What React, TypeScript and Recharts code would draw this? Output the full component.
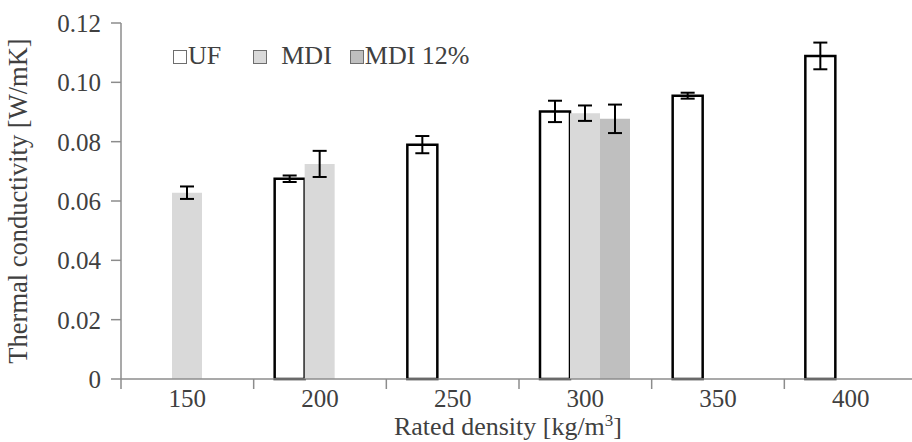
import {
  BarChart,
  Bar,
  XAxis,
  YAxis,
  ErrorBar,
} from 'recharts';

const densities = ['150', '200', '250', '300', '350', '400'];
const ufValues = [null, 0.0675, 0.0790, 0.0902, 0.0955, 0.1089];
const ufErrors = [null, 0.0011, 0.0029, 0.0036, 0.0010, 0.0045];
const mdiValues = [0.0628, 0.0725, null, 0.0896, null, null];
const mdiErrors = [0.0021, 0.0044, null, 0.0026, null, null];
const mdi12Values = [null, null, null, 0.0877, null, null];
const mdi12Errors = [null, null, null, 0.0048, null, null];
const yTicks = [0, 0.02, 0.04, 0.06, 0.08, 0.1, 0.12];

const data = densities.map((d, i) => ({
  density: d,
  uf: ufValues[i],
  ufErr: ufErrors[i],
  mdi: mdiValues[i],
  mdiErr: mdiErrors[i],
  mdi12: mdi12Values[i],
  mdi12Err: mdi12Errors[i],
}));

const FONT = '"Liberation Serif", "Times New Roman", serif';
const TEXT = '#404040';
const AXIS = '#8c8c8c';

const legendItems = [
  { label: 'UF', fill: '#ffffff', textGap: 1, after: 32 },
  { label: 'MDI', fill: '#d9d9d9', textGap: 14, after: 18 },
  { label: 'MDI 12%', fill: '#bfbfbf', textGap: 1, after: 0 },
];

// legend lives outside the chart so it doesn't eat plot space
function ChartLegend() {
  return (
    <div
      style={{
        position: 'absolute',
        top: 42,
        left: 173,
        display: 'flex',
        alignItems: 'center',
        fontFamily: FONT,
        fontSize: 26,
        color: TEXT,
        lineHeight: '28px',
      }}
    >
      {legendItems.map((it) => (
        <div key={it.label} style={{ display: 'flex', alignItems: 'center', marginRight: it.after }}>
          <span
            style={{
              display: 'inline-block',
              width: 12,
              height: 12,
              background: it.fill,
              border: '1px solid #6e6e6e',
              marginRight: it.textGap,
              marginTop: 2,
            }}
          />
          <span>{it.label}</span>
        </div>
      ))}
    </div>
  );
}

// x-axis ticks sit on the category boundaries, labels in the middle
function DensityTick(props: any) {
  const { x, y, payload } = props;
  const half = payload.offset ?? 66;
  return (
    <g>
      <line x1={x - half} y1={y - 8} x2={x - half} y2={y + 2} stroke={AXIS} strokeWidth={1.5} />
      <text x={x} y={y + 20} textAnchor="middle" fill={TEXT} fontSize={25} fontFamily={FONT}>
        {payload.value}
      </text>
    </g>
  );
}

function XTitle(props: any) {
  const { viewBox } = props;
  const cx = viewBox.x + viewBox.width / 2 - 11;
  return (
    <text x={cx} y={viewBox.y + 56} textAnchor="middle" fill={TEXT} fontSize={26} fontFamily={FONT}>
      Rated density [kg/m
      <tspan dy={-9} fontSize={17}>3</tspan>
      <tspan dy={9}>]</tspan>
    </text>
  );
}

export default function App() {
  return (
    <div style={{ position: 'absolute', left: 0, top: 0, width: 912, height: 442, background: '#fff', overflow: 'hidden' }}>
      <BarChart
        width={917}
        height={442}
        data={data}
        margin={{ top: 23, right: 0, left: 0, bottom: 0 }}
        barGap={0}
        barSize={30}
      >
        <XAxis
          dataKey="density"
          height={63}
          axisLine={{ stroke: AXIS, strokeWidth: 1.5 }}
          tickLine={false}
          tick={<DensityTick />}
          interval={0}
          label={<XTitle />}
        />
        <YAxis
          width={121}
          domain={[0, 0.12]}
          ticks={yTicks}
          tickFormatter={(v: number) => (v === 0 ? '0' : v.toFixed(2))}
          axisLine={{ stroke: AXIS, strokeWidth: 1.5 }}
          tickLine={{ stroke: AXIS, strokeWidth: 1.5 }}
          tickSize={10}
          tickMargin={10}
          tick={{ fontSize: 25, fill: TEXT, fontFamily: FONT }}
          label={{
            value: 'Thermal conductivity [W/mK]',
            angle: -90,
            position: 'insideLeft',
            offset: 18,
            style: { textAnchor: 'middle', fontSize: 26.5, fill: TEXT, fontFamily: FONT },
          }}
        />
        <Bar dataKey="uf" name="UF" fill="#ffffff" stroke="#000000" strokeWidth={2.5} isAnimationActive={false}>
          <ErrorBar dataKey="ufErr" width={7} stroke="#000" strokeWidth={2} direction="y" />
        </Bar>
        <Bar dataKey="mdi" name="MDI" fill="#d9d9d9" isAnimationActive={false}>
          <ErrorBar dataKey="mdiErr" width={7} stroke="#000" strokeWidth={2} direction="y" />
        </Bar>
        <Bar dataKey="mdi12" name="MDI 12%" fill="#bfbfbf" isAnimationActive={false}>
          <ErrorBar dataKey="mdi12Err" width={7} stroke="#000" strokeWidth={2} direction="y" />
        </Bar>
      </BarChart>
      <ChartLegend />
    </div>
  );
}
